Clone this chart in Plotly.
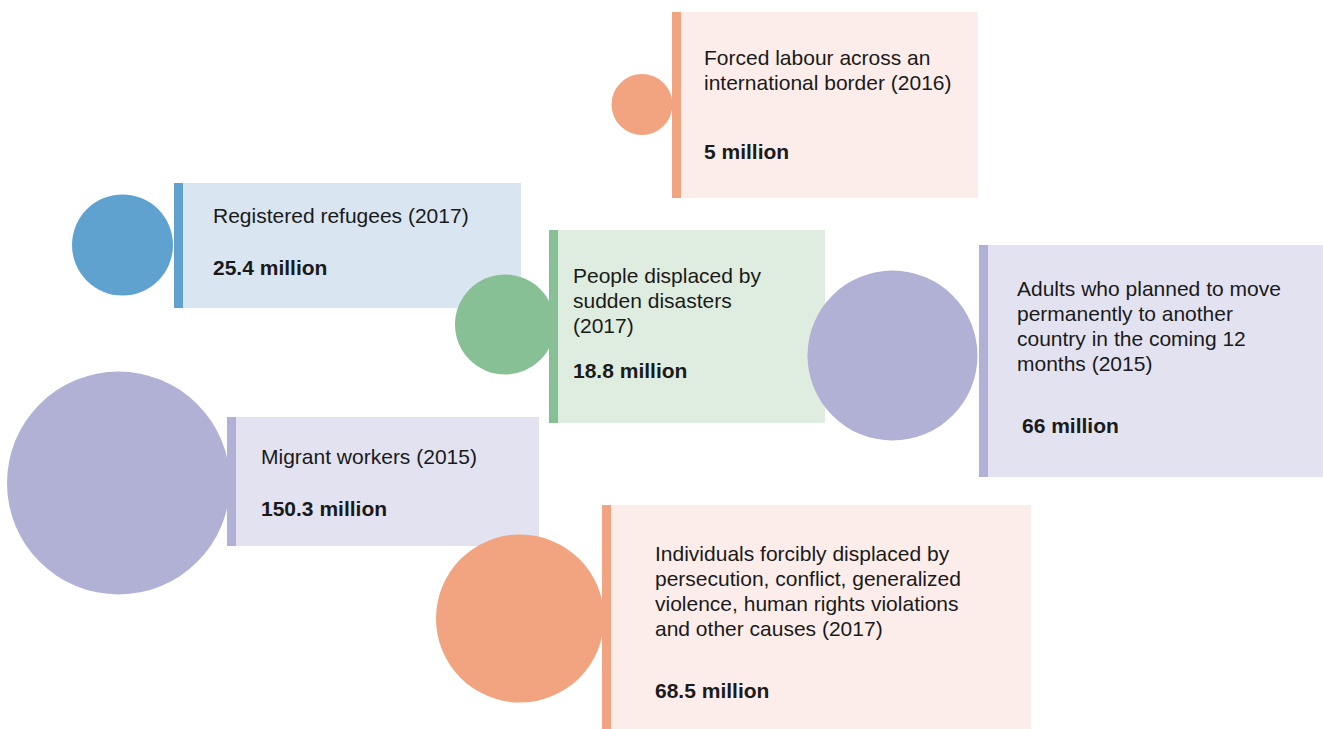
import plotly.graph_objects as go

# ---------------- data ----------------
labels = [
    "Forced labour across an<br>international border (2016)",
    "Registered refugees (2017)",
    "People displaced by<br>sudden disasters<br>(2017)",
    "Adults who planned to move<br>permanently to another<br>country in the coming 12<br>months (2015)",
    "Migrant workers (2015)",
    "Individuals forcibly displaced by<br>persecution, conflict, generalized<br>violence, human rights violations<br>and other causes (2017)",
]
values_millions = [5, 25.4, 18.8, 66, 150.3, 68.5]
value_labels = [f"{v:g} million" for v in values_millions]

# ---------------- styles ----------------
circle_colors = ["#F1A47F", "#5FA1CF", "#88C096", "#B1B1D5", "#B1B1D5", "#F1A47F"]
box_colors = ["#FCEDEA", "#D9E5F0", "#DFEDE0", "#E3E2F0", "#E3E2F0", "#FCEDEA"]

# ---------------- layout (pixel positions) ----------------
circle_cx = [642, 122.5, 505, 892.5, 118.5, 520]
circle_cy = [104.5, 245, 324.5, 355.5, 483, 618.5]
circle_d = [61, 101, 100, 170, 223, 168]
bar_x0 = [672, 174, 549, 979, 227, 602]
box_x1 = [978, 521, 825, 1323, 539, 1031]
box_y0 = [12, 183, 230, 245, 417, 505]
box_y1 = [198, 308, 423, 477, 546, 729]
text_x = [704, 213, 573, 1017, 261, 655]
value_x = [704, 213, 573, 1022, 261, 655]
first_baseline = [65, 223, 283, 296, 464, 561]
value_baseline = [159, 275, 378, 433, 516, 698]

BAR_W = 9
FS = 21
LINE = 25
BASE_OFF = 7.5  # baseline offset from annotation middle
X_PAD = 2       # annotation inner padding
FONT = "Helvetica Neue, Helvetica, Liberation Sans, Arial, sans-serif"
TXT = "#1a1a1a"

fig = go.Figure()
shapes = []
annotations = []

for i in range(len(labels)):
    # box background (below traces)
    shapes.append(dict(type="rect", xref="x", yref="y", layer="below",
                       x0=bar_x0[i], x1=box_x1[i], y0=box_y0[i], y1=box_y1[i],
                       fillcolor=box_colors[i], line=dict(width=0)))
    # accent bar (above traces)
    shapes.append(dict(type="rect", xref="x", yref="y", layer="above",
                       x0=bar_x0[i], x1=bar_x0[i] + BAR_W, y0=box_y0[i], y1=box_y1[i],
                       fillcolor=circle_colors[i], line=dict(width=0)))
    # circle
    fig.add_trace(go.Scatter(x=[circle_cx[i]], y=[circle_cy[i]], mode="markers",
                             marker=dict(size=circle_d[i], color=circle_colors[i],
                                         line=dict(width=0)),
                             hovertext=f"{labels[i].replace('<br>', ' ')}: {value_labels[i]}",
                             hoverinfo="text", showlegend=False))
    # label lines
    for j, line in enumerate(labels[i].split("<br>")):
        annotations.append(dict(x=text_x[i] - X_PAD, y=first_baseline[i] + j * LINE - BASE_OFF,
                                xref="x", yref="y", text=line, showarrow=False,
                                xanchor="left", yanchor="middle",
                                font=dict(family=FONT, size=FS, color=TXT)))
    annotations.append(dict(x=value_x[i] - X_PAD, y=value_baseline[i] - BASE_OFF,
                            xref="x", yref="y", text=f"<b>{value_labels[i]}</b>",
                            showarrow=False, xanchor="left", yanchor="middle",
                            font=dict(family=FONT, size=FS, color=TXT)))

fig.update_layout(
    width=1323, height=729,
    margin=dict(l=0, r=0, t=0, b=0),
    paper_bgcolor="white", plot_bgcolor="white",
    xaxis=dict(range=[0, 1323], visible=False, fixedrange=True),
    yaxis=dict(range=[729, 0], visible=False, fixedrange=True),
    shapes=shapes, annotations=annotations,
    showlegend=False,
)

fig.write_html("out.html")
